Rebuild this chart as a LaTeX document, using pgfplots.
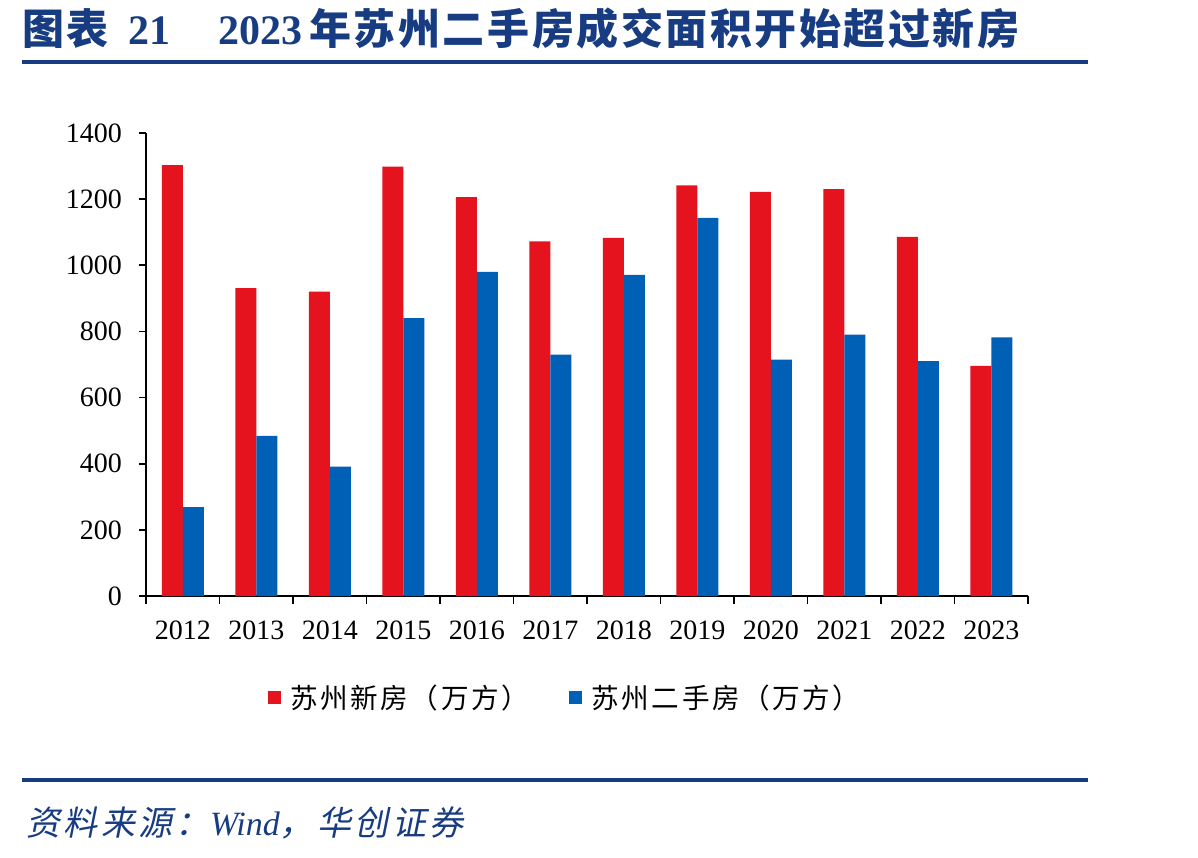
\documentclass[border=0pt]{standalone}
\usepackage{pgfplots}
\pgfplotsset{compat=1.18}
\usepackage{pgfplotstable}
\usepackage{fontspec}
\setmainfont{Liberation Serif}
\newfontfamily\cjk{Noto Sans CJK SC}
\newfontfamily\cjkt[LetterSpace=6]{Noto Sans CJK SC}
\newfontfamily\cjkl[LetterSpace=9]{Noto Sans CJK SC}
\newfontfamily\cjkit[FakeSlant=0.2,LetterSpace=10]{Noto Sans CJK SC}
\definecolor{hcred}{RGB}{228,19,30}
\definecolor{hcblue}{RGB}{0,96,182}
\definecolor{hcnavy}{RGB}{24,60,130}

\pgfplotstableread{
x new second
0 1303 269
1 931 484
2 920 391
3 1298 840
4 1206 980
5 1072 730
6 1083 971
7 1242 1143
8 1222 715
9 1230 790
10 1086 710
11 696 782
}\data

\begin{document}
\begin{tikzpicture}
\path[use as bounding box] (0,0) rectangle (599pt,428.5pt);
% title
\node[anchor=west, text=hcnavy, font=\fontsize{21}{24}\selectfont\bfseries, inner sep=0pt] at (11pt,414pt) {{\cjkt\bfseries 图表}\hspace{10pt}21};
\node[anchor=west, text=hcnavy, font=\fontsize{21}{24}\selectfont\bfseries, inner sep=0pt] at (109pt,414pt) {2023\,{\cjkt\bfseries 年苏州二手房成交面积开始超过新房}};
\draw[hcnavy, line width=2pt] (11pt,397.5pt) -- (544pt,397.5pt);
% bottom rule and source
\draw[hcnavy, line width=2pt] (11pt,38.5pt) -- (544pt,38.5pt);
\node[anchor=west, text=hcnavy, font=\fontsize{17}{19}\selectfont, inner sep=0pt] at (13pt,17pt) {{\cjkit 资料来源：}\textit{Wind}{\cjkit ，华创证券}};

\begin{axis}[
  at={(73pt,130.5pt)}, anchor=south west,
  scale only axis, width=441pt, height=231.5pt,
  xmin=-0.5, xmax=11.5, ymin=0, ymax=1400,
  ybar=0pt, bar width=10.5pt,
  axis x line*=bottom, axis y line*=left,
  axis line style={-, black, line width=0.8pt},
  xtick={0,...,11},
  xticklabels={2012,2013,2014,2015,2016,2017,2018,2019,2020,2021,2022,2023},
  major x tick style={draw=none},
  minor xtick={-0.5,0.5,...,11.5},
  minor tick length=3.8pt,
  minor tick style={black, line width=0.8pt},
  ytick={0,200,...,1400},
  major tick length=3.5pt,
  tick align=outside,
  ytick style={black, line width=0.8pt},
  tick label style={font=\fontsize{14}{16}\selectfont},
  /pgf/number format/assume math mode=true,
  /pgf/number format/1000 sep={},
  yticklabel style={xshift=-5pt},
  xticklabel style={yshift=-5.5pt},
  legend columns=2,
  legend style={draw=none, at={(0.476,-0.22)}, anchor=center,
    font=\fontsize{13.8}{16}\selectfont,
    /tikz/every even column/.append style={column sep=18pt}},
  legend image code/.code={\fill[#1] (0pt,-3.2pt) rectangle (6.5pt,3.3pt); \path (9.5pt,0pt);},
]
\addplot[fill=hcred, draw=none] table[x=x, y=new] {\data};
\addlegendentry{\cjkl 苏州新房（万方）}
\addplot[fill=hcblue, draw=none] table[x=x, y=second] {\data};
\addlegendentry{\cjkl 苏州二手房（万方）}
\end{axis}
\end{tikzpicture}
\end{document}
